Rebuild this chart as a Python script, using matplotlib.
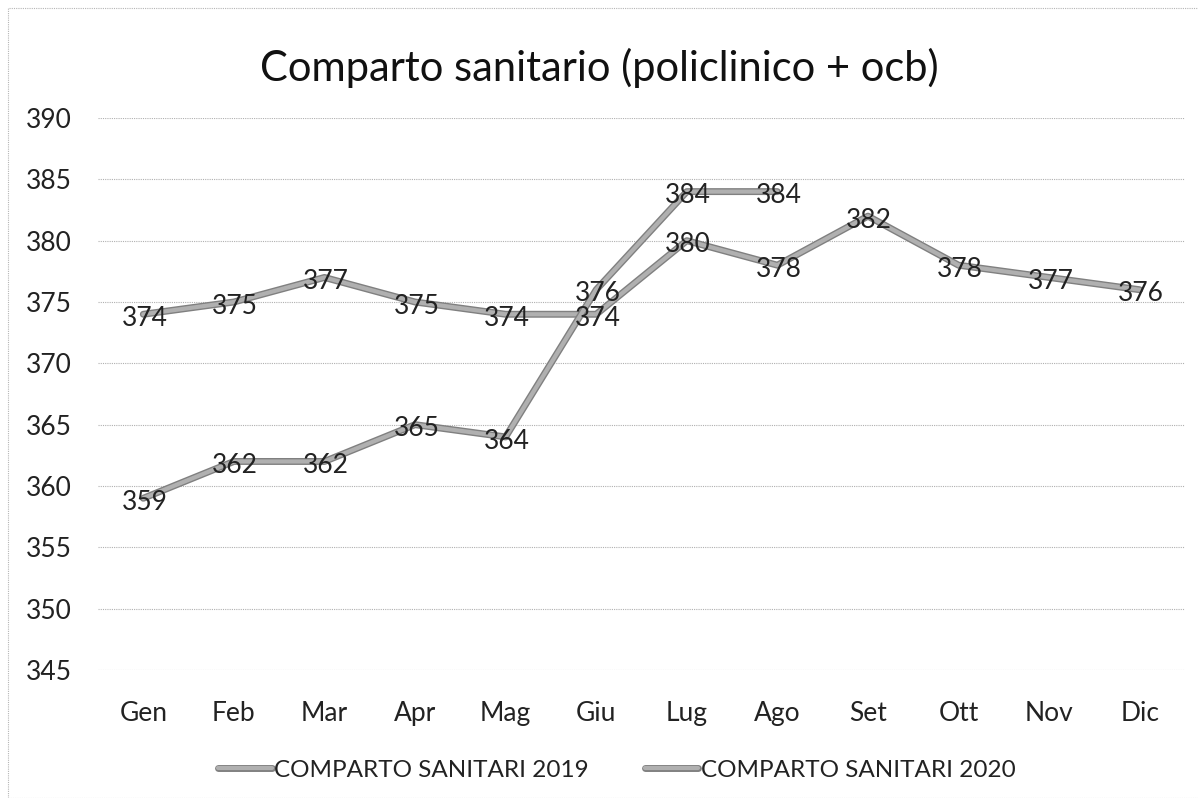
import matplotlib
matplotlib.use("Agg")
import matplotlib.pyplot as plt
import matplotlib.patheffects as pe
from matplotlib.patches import Rectangle

months = ["Gen", "Feb", "Mar", "Apr", "Mag", "Giu", "Lug", "Ago", "Set", "Ott", "Nov", "Dic"]
vals_2019 = [374, 375, 377, 375, 374, 374, 380, 378, 382, 378, 377, 376]
vals_2020 = [359, 362, 362, 365, 364, 376, 384, 384]
series_names = ["COMPARTO SANITARI 2019", "COMPARTO SANITARI 2020"]
title = "Comparto sanitario (policlinico + ocb)"
yticks = list(range(345, 391, 5))

plt.rcParams['font.family'] = ['Lato', 'DejaVu Sans']

fig = plt.figure(figsize=(11.98, 7.98), dpi=100)
ax = fig.add_axes([98/1198, 1-670/798, (1185-98)/1198, (670-118)/798])

x19 = list(range(len(vals_2019)))
x20 = list(range(len(vals_2020)))
effects = [pe.Stroke(linewidth=5, foreground='#808080'), pe.Normal()]
ax.plot(x19, vals_2019, color='#b0b0b0', lw=3, solid_capstyle='round',
        path_effects=effects, label=series_names[0], zorder=3)
ax.plot(x20, vals_2020, color='#b0b0b0', lw=3, solid_capstyle='round',
        path_effects=effects, label=series_names[1], zorder=3)

for xs, vs in ((x19, vals_2019), (x20, vals_2020)):
    for xi, v in zip(xs, vs):
        ax.annotate(str(v), (xi, v), xytext=(1, -3), textcoords='offset points',
                    ha='center', va='center', fontsize=19, color='#222222', zorder=4)

ax.set_xlim(-0.5, len(months) - 0.5)
ax.set_ylim(345, 390)
ax.set_yticks(yticks)
ax.set_xticks(range(len(months)))
ax.set_xticklabels(months)
ax.tick_params(axis='both', length=0, labelsize=19, colors='#222222')
ax.tick_params(axis='y', pad=19)
ax.tick_params(axis='x', pad=22)
ax.grid(axis='y', color='#b0b0b0', linestyle=(0, (1, 1)), linewidth=0.8)
for s in ax.spines.values():
    s.set_visible(False)

fig.text(0.5, 1-68/798, title, ha='center', va='center', fontsize=30, color='#111111')

leg = fig.legend(loc='center', bbox_to_anchor=(617/1198, 1-770/798), ncol=2, frameon=False,
                 fontsize=17.5, handlelength=2.2, columnspacing=2.3, handletextpad=0.1)
for t in leg.get_texts():
    t.set_color('#222222')

fig.patches.append(Rectangle((8/1198, 0.0), 1.0, 1-8/798, transform=fig.transFigure,
                             fill=False, edgecolor='#b5b5b5', linestyle=(0, (1, 1)),
                             linewidth=0.8))

fig.savefig("out.png", dpi=100, facecolor='white')
